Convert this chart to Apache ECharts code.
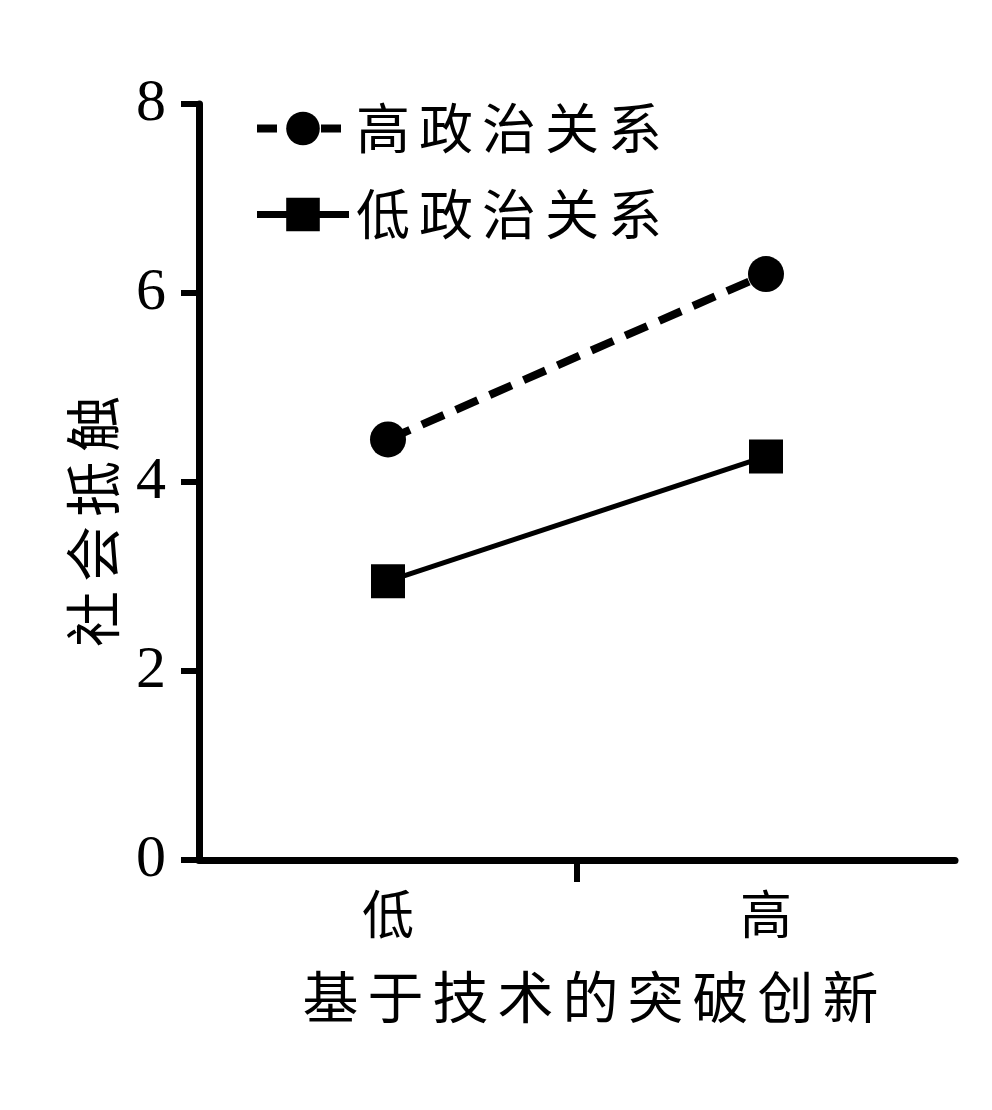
<!DOCTYPE html>
<html><head><meta charset="utf-8">
<script src="https://cdn.jsdelivr.net/npm/echarts@6/dist/echarts.min.js"></script>
<style>html,body{margin:0;padding:0;background:#fff}#c{width:992px;height:1110px}</style>
</head><body><div id="c"></div>
<script>
const categories = ['低', '高'];
const highPolitical = [4.45, 6.2];
const lowPolitical = [2.95, 4.27];
const yTicks = [0, 2, 4, 6, 8];
const seriesNames = ['高政治关系', '低政治关系'];

// widen CJK character spacing (reference uses a spaced-out Song typeface)
(function () {
  const proto = CanvasRenderingContext2D.prototype;
  if (!('letterSpacing' in proto)) return;
  const of = proto.fillText, om = proto.measureText;
  function setSp(ctx) {
    const f = ctx.font || '';
    const m = /(\d+)px/.exec(f);
    const size = m ? +m[1] : 0;
    ctx.letterSpacing = (/CJK/.test(f) && size !== 52) ? '9px' : '0px';
  }
  proto.fillText = function () { setSp(this); return of.apply(this, arguments); };
  proto.measureText = function () { setSp(this); return om.apply(this, arguments); };
})();

const cjk = '"Noto Sans CJK SC", sans-serif';
const num = '"Liberation Serif", "Times New Roman", serif';
const chart = echarts.init(document.getElementById('c'));
chart.setOption({
  backgroundColor: '#fff',
  animation: false,
  grid: { left: 199, right: 37, top: 104, bottom: 250 },
  legend: {
    orient: 'vertical', left: 248, top: 92,
    itemWidth: 92, itemHeight: 42, itemGap: 23,
    lineStyle: { width: 7 },
    textStyle: { fontFamily: cjk, fontSize: 54, color: '#000', padding: [0, 0, 0, 2] },
    data: [
      { name: seriesNames[0], lineStyle: { width: 8, type: [20, 12] } },
      { name: seriesNames[1], lineStyle: { width: 7, type: 'solid' } }
    ]
  },
  xAxis: [{
    type: 'category', data: categories, boundaryGap: true,
    name: '基于技术的突破创新', nameLocation: 'middle', nameGap: 104,
    nameTextStyle: { fontFamily: cjk, fontSize: 56, color: '#000', padding: [0, 0, 0, 36] },
    axisLine: { lineStyle: { color: '#000', width: 7 } },
    axisTick: { show: false },
    axisLabel: { fontFamily: cjk, fontSize: 52, color: '#000', margin: 28 }
  }, {
    type: 'value', min: 0, max: 2, position: 'bottom',
    axisLine: { show: false },
    axisLabel: { show: false },
    splitLine: { show: false },
    axisTick: { show: true, length: 22, customValues: [1], lineStyle: { color: '#000', width: 6 } }
  }],
  yAxis: {
    type: 'value', min: 0, max: 8, interval: 2,
    name: '社会抵触', nameLocation: 'middle', nameGap: 66,
    nameTextStyle: { fontFamily: cjk, fontSize: 56, color: '#000', padding: [0, 70, 0, 0] },
    axisLine: { show: true, lineStyle: { color: '#000', width: 7 } },
    axisTick: { show: true, length: 18, lineStyle: { color: '#000', width: 6 } },
    splitLine: { show: false },
    axisLabel: { fontFamily: num, fontSize: 60, color: '#000', margin: 33,
      formatter: function (v) { return yTicks.indexOf(v) >= 0 ? String(v) : ''; } }
  },
  series: [
    { name: seriesNames[0], type: 'line', data: highPolitical, xAxisIndex: 0,
      symbol: 'circle', symbolSize: 36,
      itemStyle: { color: '#000' },
      lineStyle: { color: '#000', width: 8, type: [24, 13] } },
    { name: seriesNames[1], type: 'line', data: lowPolitical, xAxisIndex: 0,
      symbol: 'rect', symbolSize: 34,
      itemStyle: { color: '#000' },
      lineStyle: { color: '#000', width: 5, type: 'solid' } }
  ]
});
</script></body></html>
